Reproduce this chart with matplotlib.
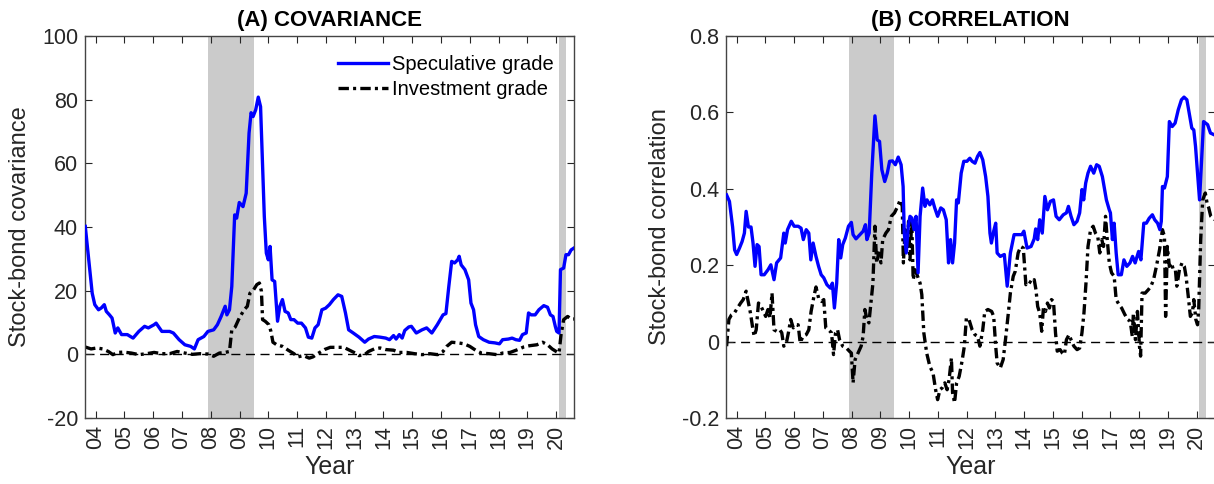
import matplotlib
matplotlib.use("Agg")
import matplotlib.pyplot as plt
import numpy as np

plt.rcParams['font.family'] = ['Liberation Sans', 'DejaVu Sans']
plt.rcParams['axes.unicode_minus'] = False
plt.rcParams['lines.scale_dashes'] = False

# ---- data (decimal years) -------------------------------------------------
cov_spec_t = [2003.64, 2003.88, 2003.97, 2004.10, 2004.20, 2004.30, 2004.37, 2004.48, 2004.57,
              2004.68, 2004.77, 2004.90, 2005.10, 2005.30, 2005.50, 2005.70, 2005.83, 2006.03,
              2006.10, 2006.30, 2006.57, 2006.70, 2006.90, 2007.10, 2007.30, 2007.43, 2007.56,
              2007.76, 2007.90, 2008.10, 2008.23, 2008.36, 2008.50, 2008.56, 2008.65, 2008.73,
              2008.83, 2008.90, 2008.99, 2009.12, 2009.23, 2009.33, 2009.40, 2009.47, 2009.56,
              2009.65, 2009.73, 2009.80, 2009.86, 2009.93, 2010.00, 2010.06, 2010.13, 2010.22,
              2010.32, 2010.40, 2010.49, 2010.58, 2010.69, 2010.78, 2010.89, 2011.02, 2011.15,
              2011.29, 2011.39, 2011.51, 2011.62, 2011.73, 2011.86, 2011.99, 2012.12, 2012.26,
              2012.42, 2012.55, 2012.68, 2012.79, 2012.95, 2013.15, 2013.35, 2013.48, 2013.68,
              2013.88, 2014.08, 2014.21, 2014.35, 2014.44, 2014.55, 2014.65, 2014.74, 2014.88,
              2014.97, 2015.14, 2015.34, 2015.50, 2015.68, 2015.87, 2016.07, 2016.17, 2016.27,
              2016.37, 2016.47, 2016.58, 2016.63, 2016.70, 2016.83, 2016.96, 2017.04, 2017.13,
              2017.20, 2017.31, 2017.47, 2017.67, 2017.87, 2018.03, 2018.14, 2018.34, 2018.47,
              2018.60, 2018.73, 2018.83, 2018.96, 2019.04, 2019.13, 2019.27, 2019.40, 2019.57,
              2019.70, 2019.80, 2019.89, 2019.97, 2020.02, 2020.10, 2020.15, 2020.26, 2020.34,
              2020.43, 2020.52, 2020.62]
cov_spec_v = [40.2, 19.2, 15.6, 14.0, 14.6, 15.6, 13.5, 12.4, 11.4,
              6.7, 8.3, 6.2, 6.2, 5.1, 7.2, 8.8, 8.3, 9.3,
              9.8, 7.2, 7.2, 6.7, 4.6, 3.0, 2.5, 1.7, 4.6,
              5.6, 7.2, 7.7, 9.3, 11.9, 15.1, 12.4, 14.0, 21.3,
              43.8, 42.8, 47.7, 46.4, 50.6, 69.5, 75.9, 74.7, 76.8,
              80.8, 77.8, 59.0, 43.3, 31.8, 29.7, 33.9, 23.4, 22.9,
              10.4, 15.1, 17.2, 13.5, 13.0, 10.9, 10.9, 9.8, 9.8,
              8.3, 5.4, 5.1, 8.3, 9.3, 14.0, 14.5, 15.6, 17.2,
              18.7, 18.2, 13.0, 7.7, 6.7, 5.4, 3.8, 4.8, 5.6,
              5.4, 5.1, 4.6, 5.9, 4.8, 6.2, 5.1, 7.5, 8.6,
              8.8, 6.7, 7.7, 8.3, 6.7, 9.3, 12.4, 12.8, 21.3,
              29.2, 28.7, 29.7, 30.8, 28.1, 26.6, 23.4, 16.1, 14.0,
              9.3, 5.6, 4.6, 3.8, 3.6, 3.3, 4.6, 4.8, 5.1,
              4.6, 4.4, 6.2, 6.7, 13.0, 12.4, 12.4, 14.0, 15.3,
              14.8, 12.4, 11.9, 8.8, 7.2, 6.7, 26.6, 27.1, 31.3,
              31.3, 32.8, 33.4]

cov_inv_t = [2003.64, 2003.84, 2004.04, 2004.24, 2004.44, 2004.60, 2004.77, 2004.97, 2005.24,
             2005.50, 2005.77, 2006.03, 2006.30, 2006.57, 2006.83, 2007.10, 2007.36, 2007.63,
             2007.90, 2008.10, 2008.30, 2008.50, 2008.65, 2008.73, 2008.85, 2008.99, 2009.16,
             2009.27, 2009.36, 2009.49, 2009.60, 2009.69, 2009.76, 2009.80, 2009.89, 2010.02,
             2010.09, 2010.16, 2010.29, 2010.49, 2010.69, 2010.89, 2011.02, 2011.22, 2011.42,
             2011.55, 2011.75, 2011.95, 2012.15, 2012.42, 2012.62, 2012.82, 2013.02, 2013.15,
             2013.35, 2013.48, 2013.68, 2013.88, 2014.08, 2014.35, 2014.55, 2014.81, 2015.08,
             2015.34, 2015.61, 2015.88, 2016.07, 2016.20, 2016.37, 2016.60, 2016.80, 2017.00,
             2017.20, 2017.40, 2017.67, 2017.94, 2018.14, 2018.40, 2018.67, 2018.87, 2019.07,
             2019.33, 2019.53, 2019.70, 2019.86, 2020.00, 2020.10, 2020.17, 2020.26, 2020.40,
             2020.52, 2020.62]
cov_inv_v = [2.3, 1.7, 2.0, 1.7, 0.9, -0.1, 0.6, 0.7, 0.4,
             -0.1, 0.2, 0.6, 0.2, 0.2, 0.9, 0.4, 0.0, 0.2,
             0.1, -0.6, 0.4, 0.6, 0.9, 7.7, 8.6, 11.4, 14.0,
             15.1, 19.2, 20.3, 21.9, 22.4, 19.8, 10.9, 10.4, 9.3,
             7.2, 3.8, 3.0, 2.5, 1.3, 0.2, -0.8, -0.4, -1.2,
             -0.8, 0.4, 1.5, 2.2, 2.2, 2.2, 1.3, 0.4, -0.4,
             -0.1, 0.9, 1.7, 2.0, 1.5, 1.3, 0.6, 0.6, 0.2,
             -0.1, 0.2, -0.1, 0.9, 2.5, 3.8, 3.6, 3.3, 2.5,
             1.3, 0.4, 0.2, -0.1, 0.4, 0.6, 1.5, 2.3, 2.7,
             3.0, 3.8, 3.0, 1.7, 0.9, 0.4, 6.2, 10.9, 11.9,
             11.1, 11.1]

cor_spec_t = [2003.65, 2003.75, 2003.86, 2003.93, 2004.00, 2004.10, 2004.19, 2004.27, 2004.33,
              2004.41, 2004.50, 2004.57, 2004.64, 2004.71, 2004.78, 2004.85, 2004.96, 2005.09,
              2005.19, 2005.30, 2005.39, 2005.53, 2005.64, 2005.69, 2005.77, 2005.90, 2006.00,
              2006.14, 2006.24, 2006.32, 2006.42, 2006.51, 2006.58, 2006.66, 2006.76, 2006.85,
              2006.94, 2007.03, 2007.14, 2007.26, 2007.33, 2007.40, 2007.48, 2007.55, 2007.62,
              2007.69, 2007.78, 2007.89, 2007.99, 2008.05, 2008.15, 2008.29, 2008.40, 2008.48,
              2008.53, 2008.61, 2008.70, 2008.81, 2008.89, 2008.97, 2009.05, 2009.15, 2009.24,
              2009.32, 2009.42, 2009.52, 2009.62, 2009.72, 2009.79, 2009.83, 2009.90, 2009.97,
              2010.03, 2010.10, 2010.17, 2010.24, 2010.31, 2010.38, 2010.47, 2010.55, 2010.62,
              2010.72, 2010.81, 2010.89, 2010.99, 2011.10, 2011.19, 2011.29, 2011.37, 2011.44,
              2011.51, 2011.58, 2011.65, 2011.71, 2011.81, 2011.90, 2012.01, 2012.11, 2012.19,
              2012.29, 2012.38, 2012.46, 2012.56, 2012.66, 2012.74, 2012.81, 2012.86, 2012.94,
              2013.01, 2013.06, 2013.17, 2013.31, 2013.41, 2013.52, 2013.65, 2013.79, 2013.92,
              2013.99, 2014.10, 2014.24, 2014.35, 2014.40, 2014.47, 2014.54, 2014.63, 2014.72,
              2014.81, 2014.91, 2015.02, 2015.11, 2015.22, 2015.36, 2015.47, 2015.54, 2015.63,
              2015.73, 2015.84, 2015.93, 2016.01, 2016.07, 2016.14, 2016.22, 2016.31, 2016.42,
              2016.52, 2016.61, 2016.72, 2016.86, 2016.96, 2017.00, 2017.07, 2017.13, 2017.20,
              2017.27, 2017.38, 2017.47, 2017.57, 2017.68, 2017.77, 2017.86, 2017.98, 2018.06,
              2018.16, 2018.25, 2018.35, 2018.46, 2018.54, 2018.64, 2018.72, 2018.77, 2018.81,
              2018.88, 2018.98, 2019.05, 2019.15, 2019.25, 2019.36, 2019.47, 2019.56, 2019.66,
              2019.74, 2019.83, 2019.90, 2019.96, 2020.03, 2020.10, 2020.17, 2020.24, 2020.38,
              2020.48, 2020.62]
cor_spec_v = [0.384, 0.367, 0.300, 0.240, 0.228, 0.245, 0.262, 0.284, 0.341,
              0.300, 0.300, 0.258, 0.197, 0.254, 0.249, 0.175, 0.175, 0.188,
              0.201, 0.162, 0.206, 0.219, 0.284, 0.258, 0.293, 0.315, 0.302,
              0.302, 0.297, 0.267, 0.293, 0.284, 0.214, 0.258, 0.223, 0.197,
              0.175, 0.167, 0.149, 0.140, 0.153, 0.088, 0.153, 0.267, 0.219,
              0.254, 0.271, 0.302, 0.312, 0.280, 0.269, 0.280, 0.289, 0.306,
              0.267, 0.284, 0.441, 0.591, 0.528, 0.524, 0.450, 0.419, 0.441,
              0.472, 0.473, 0.463, 0.483, 0.463, 0.406, 0.284, 0.232, 0.302,
              0.328, 0.323, 0.293, 0.328, 0.180, 0.328, 0.402, 0.354, 0.371,
              0.358, 0.371, 0.350, 0.328, 0.350, 0.345, 0.319, 0.206, 0.267,
              0.206, 0.258, 0.371, 0.363, 0.441, 0.472, 0.472, 0.480, 0.472,
              0.467, 0.485, 0.495, 0.476, 0.432, 0.380, 0.284, 0.258, 0.289,
              0.310, 0.232, 0.223, 0.228, 0.145, 0.232, 0.280, 0.280, 0.280,
              0.289, 0.245, 0.249, 0.269, 0.295, 0.267, 0.319, 0.284, 0.380,
              0.345, 0.367, 0.371, 0.328, 0.319, 0.332, 0.337, 0.354, 0.328,
              0.306, 0.315, 0.337, 0.398, 0.371, 0.415, 0.441, 0.459, 0.441,
              0.463, 0.459, 0.432, 0.371, 0.345, 0.337, 0.267, 0.310, 0.232,
              0.175, 0.175, 0.214, 0.197, 0.206, 0.223, 0.206, 0.236, 0.214,
              0.310, 0.310, 0.323, 0.332, 0.319, 0.310, 0.293, 0.315, 0.406,
              0.402, 0.432, 0.576, 0.563, 0.572, 0.607, 0.633, 0.640, 0.633,
              0.598, 0.559, 0.554, 0.511, 0.441, 0.371, 0.476, 0.576, 0.568,
              0.546, 0.541]

cor_inv_t = [2003.65, 2003.73, 2003.82, 2003.92, 2004.03, 2004.14, 2004.23, 2004.33, 2004.41,
             2004.48, 2004.55, 2004.61, 2004.68, 2004.76, 2004.85, 2004.93, 2005.01, 2005.09,
             2005.16, 2005.23, 2005.30, 2005.39, 2005.50, 2005.57, 2005.64, 2005.73, 2005.80,
             2005.88, 2005.97, 2006.08, 2006.14, 2006.21, 2006.31, 2006.42, 2006.51, 2006.59,
             2006.69, 2006.76, 2006.85, 2006.96, 2007.03, 2007.10, 2007.19, 2007.30, 2007.37,
             2007.44, 2007.51, 2007.58, 2007.69, 2007.82, 2007.92, 2007.99, 2008.05, 2008.12,
             2008.22, 2008.33, 2008.40, 2008.46, 2008.53, 2008.60, 2008.67, 2008.74, 2008.81,
             2008.87, 2008.94, 2009.02, 2009.08, 2009.19, 2009.28, 2009.38, 2009.49, 2009.60,
             2009.69, 2009.76, 2009.80, 2009.86, 2009.93, 2009.98, 2010.03, 2010.09, 2010.14,
             2010.21, 2010.31, 2010.38, 2010.44, 2010.51, 2010.61, 2010.72, 2010.83, 2010.92,
             2010.99, 2011.07, 2011.15, 2011.24, 2011.32, 2011.39, 2011.47, 2011.51, 2011.58,
             2011.65, 2011.74, 2011.84, 2011.92, 2011.99, 2012.08, 2012.19, 2012.29, 2012.38,
             2012.46, 2012.56, 2012.63, 2012.74, 2012.87, 2012.94, 2013.01, 2013.06, 2013.17,
             2013.27, 2013.35, 2013.45, 2013.52, 2013.62, 2013.69, 2013.79, 2013.88, 2013.97,
             2014.06, 2014.16, 2014.27, 2014.35, 2014.41, 2014.47, 2014.54, 2014.61, 2014.67,
             2014.74, 2014.81, 2014.88, 2014.95, 2015.02, 2015.09, 2015.15, 2015.25, 2015.33,
             2015.40, 2015.47, 2015.56, 2015.63, 2015.73, 2015.84, 2015.93, 2016.01, 2016.08,
             2016.15, 2016.22, 2016.31, 2016.40, 2016.48, 2016.56, 2016.63, 2016.70, 2016.76,
             2016.83, 2016.89, 2016.96, 2017.04, 2017.13, 2017.20, 2017.30, 2017.39, 2017.50,
             2017.60, 2017.69, 2017.76, 2017.80, 2017.87, 2017.94, 2018.01, 2018.05, 2018.10,
             2018.21, 2018.32, 2018.41, 2018.50, 2018.60, 2018.71, 2018.81, 2018.88, 2018.92,
             2018.98, 2019.05, 2019.12, 2019.19, 2019.26, 2019.31, 2019.40, 2019.49, 2019.57,
             2019.63, 2019.72, 2019.78, 2019.85, 2019.90, 2019.97, 2020.03, 2020.07, 2020.14,
             2020.21, 2020.30, 2020.36, 2020.42, 2020.49, 2020.62]
cor_inv_v = [-0.012, 0.058, 0.070, 0.075, 0.088, 0.101, 0.110, 0.132, 0.101,
             0.075, 0.040, 0.014, 0.031, 0.101, 0.092, 0.079, 0.066, 0.084,
             0.062, 0.127, 0.031, 0.027, 0.031, 0.023, -0.012, -0.003, 0.023,
             0.058, 0.036, 0.044, 0.044, -0.003, 0.014, 0.018, 0.031, 0.079,
             0.119, 0.143, 0.114, 0.105, 0.110, 0.036, 0.031, 0.023, -0.034,
             0.023, 0.031, 0.005, -0.012, -0.017, -0.025, -0.030, -0.108, -0.047,
             -0.030, -0.012, 0.014, 0.084, 0.058, 0.049, 0.101, 0.153, 0.302,
             0.206, 0.232, 0.206, 0.267, 0.284, 0.293, 0.328, 0.337, 0.354,
             0.371, 0.354, 0.206, 0.293, 0.249, 0.315, 0.214, 0.319, 0.162,
             0.188, 0.167, 0.153, 0.123, 0.023, -0.030, -0.065, -0.082, -0.126,
             -0.152, -0.126, -0.121, -0.108, -0.126, -0.099, -0.043, -0.134, -0.160,
             -0.108, -0.091, -0.051, -0.012, 0.062, 0.058, 0.031, 0.018, 0.014,
             -0.012, 0.031, 0.079, 0.084, 0.079, 0.066, -0.012, -0.056, -0.069,
             -0.047, 0.005, 0.075, 0.127, 0.171, 0.184, 0.232, 0.249, 0.245,
             0.149, 0.158, 0.153, 0.162, 0.136, 0.092, 0.075, 0.027, 0.088,
             0.079, 0.101, 0.088, 0.110, 0.105, 0.023, -0.025, -0.021, -0.030,
             -0.034, 0.005, 0.018, 0.005, -0.012, -0.021, -0.017, 0.023, 0.075,
             0.153, 0.249, 0.293, 0.302, 0.284, 0.275, 0.232, 0.267, 0.249,
             0.328, 0.267, 0.206, 0.180, 0.171, 0.110, 0.097, 0.088, 0.071,
             0.058, 0.053, 0.014, 0.075, 0.005, 0.079, -0.012, -0.038, 0.127,
             0.127, 0.136, 0.145, 0.162, 0.197, 0.241, 0.293, 0.275, 0.066,
             0.249, 0.197, 0.206, 0.188, 0.188, 0.145, 0.188, 0.206, 0.197,
             0.171, 0.110, 0.066, 0.075, 0.110, 0.058, 0.044, 0.084, 0.267,
             0.371, 0.389, 0.363, 0.350, 0.328, 0.319]

recession_start = [2007.92, 2020.09]
recession_end = [2009.49, 2020.33]

year_ticks = list(range(2004, 2021))
year_labels = [f"{y % 100:02d}" for y in year_ticks]

cov_ticks = [-20, 0, 20, 40, 60, 80, 100]
cor_ticks = [-0.2, 0, 0.2, 0.4, 0.6, 0.8]

series_labels = ["Speculative grade", "Investment grade"]
panel_titles = ["(A) COVARIANCE", "(B) CORRELATION"]
ylabels = ["Stock-bond covariance", "Stock-bond correlation"]

# ---- figure ------------------------------------------------------------------
W, H = 1214, 484
fig = plt.figure(figsize=(W / 100, H / 100), dpi=100)
axA = fig.add_axes([85 / W, 1 - 418 / H, 489 / W, 382 / H])
axB = fig.add_axes([726 / W, 1 - 418 / H, 488.5 / W, 382 / H])

TXT = '#262626'
BLUE = '#0000ff'
SHADE = '#cbcbcb'
dashdot = (0, (7.5, 3.0, 2.2, 3.0))


def style_axes(ax, yticks, ylim, ylabel, title, fmt):
    for s, e in zip(recession_start, recession_end):
        ax.axvspan(s, e, color=SHADE, lw=0, zorder=0)
    ax.axhline(0, color='black', lw=1.0, ls=(0, (6.5, 4.0)), zorder=1)
    ax.set_xlim(2003.63, 2020.62)
    ax.set_ylim(*ylim)
    ax.set_xticks(year_ticks)
    ax.set_xticklabels(year_labels, rotation=90)
    ax.set_yticks(yticks)
    ax.set_yticklabels([fmt(v) for v in yticks])
    ax.tick_params(direction='in', length=5, width=0.8, top=True, right=True,
                   labelsize=15.5, colors=TXT, pad=5)
    for sp in ax.spines.values():
        sp.set_color('#444444')
        sp.set_linewidth(1.0)
    ax.set_xlabel("Year", fontsize=18, color=TXT, labelpad=4)
    ax.set_ylabel(ylabel, fontsize=17, color=TXT, labelpad=8)
    ax.set_title(title, fontsize=16, fontweight='bold', color='black', pad=7)


style_axes(axA, cov_ticks, (-20, 100), ylabels[0], panel_titles[0],
           lambda v: f"{v:d}")
style_axes(axB, cor_ticks, (-0.2, 0.8), ylabels[1], panel_titles[1],
           lambda v: "0" if v == 0 else f"{v:.1f}")

lA1, = axA.plot(cov_spec_t, cov_spec_v, color=BLUE, lw=2.4, zorder=3,
                solid_joinstyle='round')
lA2, = axA.plot(cov_inv_t, cov_inv_v, color='black', lw=2.4, ls=dashdot, zorder=2)
axB.plot(cor_spec_t, cor_spec_v, color=BLUE, lw=2.4, zorder=3, solid_joinstyle='round')
axB.plot(cor_inv_t, cor_inv_v, color='black', lw=2.4, ls=dashdot, zorder=2)

axA.legend([lA1, lA2], series_labels, loc='upper left',
           bbox_to_anchor=((338 - 85) / 489, (418 - 55) / 382),
           frameon=False, fontsize=14.5, handlelength=2.5, handletextpad=0.2,
           labelspacing=0.28, borderpad=0, borderaxespad=0,
           labelcolor='black')

fig.savefig("out.png", dpi=100)
